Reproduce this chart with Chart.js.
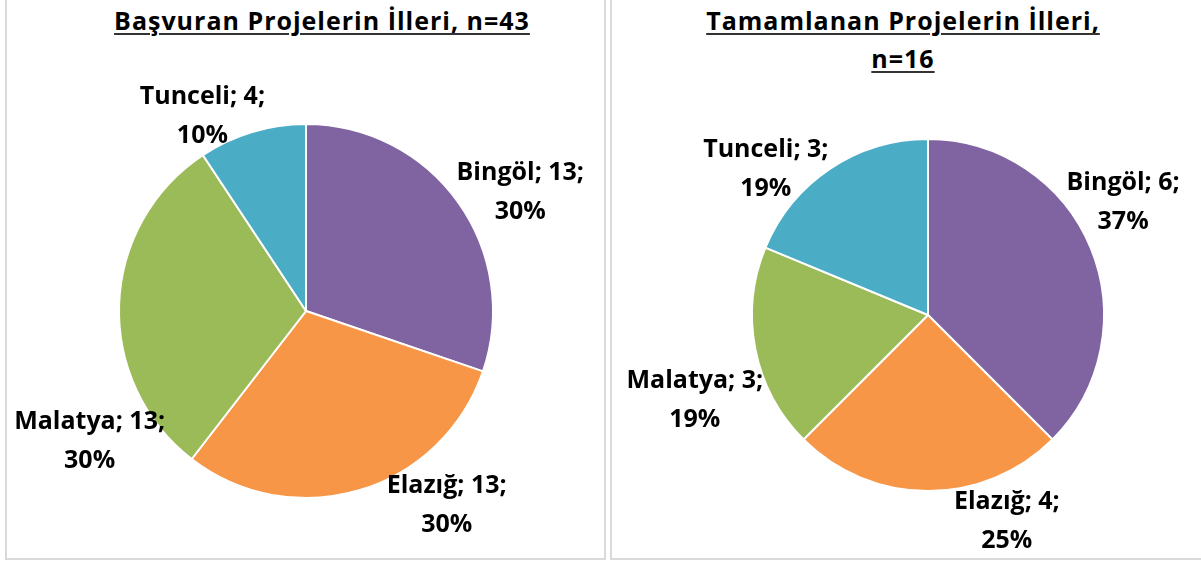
<!DOCTYPE html>
<html>
<head>
<meta charset="utf-8">
<script src="https://cdn.jsdelivr.net/npm/chart.js@4/dist/chart.umd.min.js"></script>
<style>
    html, body { margin: 0; padding: 0; background: #fff; }
    body { width: 1201px; height: 562px; position: relative; overflow: hidden; font-family: "Open Sans", sans-serif; }
    .panel { position: absolute; box-sizing: border-box; border: 2px solid #d9d9d9; background: #fff; }
    .title { position: absolute; text-align: center; font-weight: bold; font-size: 25px; letter-spacing: 1px; line-height: 38px; color: #000; }
    .title span { text-decoration: underline; text-decoration-thickness: 2px; text-underline-offset: 3px; text-decoration-color: #333; }
    .wrap { position: absolute; }
</style>
</head>
<body>
<div class="panel" style="left:5px; top:-3px; width:601px; height:563px;"></div>
<div class="panel" style="left:610px; top:-3px; width:600px; height:563px;"></div>

<div class="title" style="left:20px; top:1px; width:604px;"><span>Başvuran Projelerin İlleri, n=43</span></div>
<div class="title" style="left:620px; top:1px; width:566px;"><span>Tamamlanan Projelerin İlleri,</span><br><span>n=16</span></div>

<div class="wrap" style="left:7px; top:0; width:596px; height:556px;"><canvas id="chart-applied"></canvas></div>
<div class="wrap" style="left:612px; top:0; width:589px; height:556px;"><canvas id="chart-completed"></canvas></div>

<script>
const provinces = ['Bingöl', 'Elazığ', 'Malatya', 'Tunceli'];
const appliedCounts = [13, 13, 13, 4];
const appliedPercents = ['30%', '30%', '30%', '10%'];
const completedCounts = [6, 4, 3, 3];
const completedPercents = ['37%', '25%', '19%', '19%'];

const sliceColors = ['#8064A2', '#F79646', '#9BBB59', '#4BACC6'];

// where Excel put each label: angle (deg, clockwise from top) and distance in radii
const appliedLabelPlacement = [
    { angle: 61, dist: 1.31 },
    { angle: 144, dist: 1.28 },
    { angle: 239, dist: 1.35 },
    { angle: 332, dist: 1.18 },
];
const completedLabelPlacement = [
    { angle: 60, dist: 1.28 },
    { angle: 159, dist: 1.25 },
    { angle: 250, dist: 1.41 },
    { angle: 312, dist: 1.24 },
];

const sliceLabels = {
    id: 'sliceLabels',
    afterDatasetsDraw(chart, args, opts) {
        const ctx = chart.ctx;
        const meta = chart.getDatasetMeta(0);
        const values = chart.data.datasets[0].data;
        ctx.save();
        ctx.font = 'bold 25px "Open Sans", sans-serif';
        ctx.fillStyle = '#000';
        ctx.textAlign = 'center';
        ctx.textBaseline = 'middle';
        meta.data.forEach((arc, i) => {
            const place = opts.placement[i];
            const rad = place.angle * Math.PI / 180;
            const r = arc.outerRadius * place.dist;
            const cx = arc.x + Math.sin(rad) * r;
            const cy = arc.y - Math.cos(rad) * r;
            ctx.fillText(chart.data.labels[i] + '; ' + values[i] + ';', cx, cy - 19);
            ctx.fillText(opts.percents[i], cx, cy + 20);
        });
        ctx.restore();
    },
};

function makePie(id, counts, percents, placement, padding) {
    const ctx = document.getElementById(id).getContext('2d');
    return new Chart(ctx, {
        type: 'pie',
        data: {
            labels: provinces,
            datasets: [
                {
                    data: counts,
                    backgroundColor: sliceColors,
                    borderColor: '#ffffff',
                    borderWidth: 2,
                },
            ],
        },
        options: {
            responsive: true,
            maintainAspectRatio: false,
            animation: false,
            layout: { padding },
            plugins: {
                legend: { display: false },
                tooltip: { enabled: false },
                sliceLabels: { placement, percents },
            },
        },
        plugins: [sliceLabels],
    });
}

makePie('chart-applied', appliedCounts, appliedPercents, appliedLabelPlacement,
    { left: 111, right: 109, top: 123, bottom: 57 });
makePie('chart-completed', completedCounts, completedPercents, completedLabelPlacement,
    { left: 139, right: 96, top: 138, bottom: 64 });
</script>
</body>
</html>
